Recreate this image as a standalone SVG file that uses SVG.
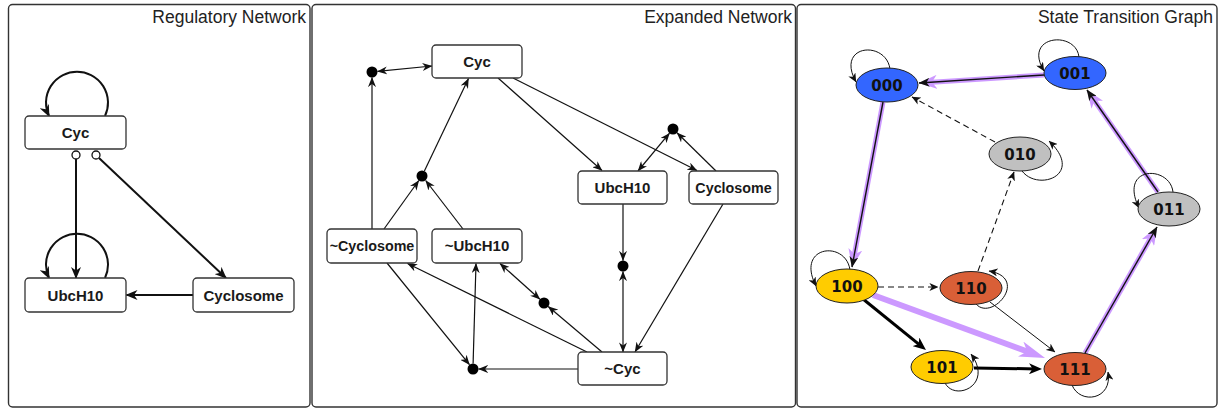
<svg xmlns="http://www.w3.org/2000/svg" width="1227" height="409" viewBox="0 0 1227 409">
  <style>
    .frame { fill: #ffffff; stroke: #333333; stroke-width: 1.4; }
    .title { font-family: "Liberation Sans", Arial, sans-serif; font-size: 17.5px; fill: #222222; text-anchor: end; }
    .box { fill: #ffffff; stroke: #333333; stroke-width: 1.3; }
    .lbl { font-family: "Liberation Sans", Arial, sans-serif; font-weight: bold; font-size: 15px; fill: #1a1a1a; text-anchor: middle; }
    .st { font-family: "DejaVu Sans", sans-serif; font-weight: bold; font-size: 15px; fill: #111111; text-anchor: middle; }
    .ell { stroke: #222222; stroke-width: 1; }
    .e1 { fill: none; stroke: #111111; stroke-width: 2; marker-end: url(#a1); }
    .e2 { fill: none; stroke: #111111; stroke-width: 1.2; marker-end: url(#a2); }
    .e2d { fill: none; stroke: #111111; stroke-width: 1.2; marker-start: url(#a2); marker-end: url(#a2); }
    .dot { fill: #000000; }
    .loop { fill: none; stroke: #111111; stroke-width: 1; marker-end: url(#a3); }
    .dash { fill: none; stroke: #111111; stroke-width: 1.1; stroke-dasharray: 6 4; marker-end: url(#a3); }
    .thin { fill: none; stroke: #111111; stroke-width: 1; marker-end: url(#a3); }
    .thick { fill: none; stroke: #000000; stroke-width: 3; marker-end: url(#a3t); }
    .glow { fill: none; stroke: #cc99ff; stroke-width: 5; marker-end: url(#ap); }
    .glow2 { fill: none; stroke: #cc99ff; stroke-width: 6; marker-end: url(#ap2); }
    .core { fill: none; stroke: #111111; stroke-width: 1.4; marker-end: url(#a3b); }
  </style>
  <defs>
    <marker id="a1" viewBox="0 0 12 10" markerWidth="12" markerHeight="10" refX="11" refY="5" orient="auto-start-reverse" markerUnits="userSpaceOnUse">
      <path d="M0,0 L12,5 L0,10 L3.5,5 z" fill="#111111"/>
    </marker>
    <marker id="a2" viewBox="0 0 10 8" markerWidth="10" markerHeight="8" refX="9.6" refY="4" orient="auto-start-reverse" markerUnits="userSpaceOnUse">
      <path d="M0,0 L10,4 L0,8 L3,4 z" fill="#111111"/>
    </marker>
    <marker id="a3" viewBox="0 0 9 8" markerWidth="9" markerHeight="8" refX="8.6" refY="4" orient="auto" markerUnits="userSpaceOnUse">
      <path d="M0,0 L9,4 L0,8 L2.5,4 z" fill="#111111"/>
    </marker>
    <marker id="a3b" viewBox="0 0 11 9" markerWidth="11" markerHeight="9" refX="10.5" refY="4.5" orient="auto" markerUnits="userSpaceOnUse">
      <path d="M0,0 L11,4.5 L0,9 L3,4.5 z" fill="#111111"/>
    </marker>
    <marker id="a3t" viewBox="0 0 13 11" markerWidth="13" markerHeight="11" refX="8" refY="5.5" orient="auto" markerUnits="userSpaceOnUse">
      <path d="M0,0 L13,5.5 L0,11 L3.5,5.5 z" fill="#000000"/>
    </marker>
    <marker id="ap" viewBox="0 0 18 14" markerWidth="18" markerHeight="14" refX="9" refY="7" orient="auto" markerUnits="userSpaceOnUse">
      <path d="M0,0 L18,7 L0,14 L5,7 z" fill="#cc99ff"/>
    </marker>
    <marker id="ap2" viewBox="0 0 26 16" markerWidth="26" markerHeight="16" refX="12" refY="8" orient="auto" markerUnits="userSpaceOnUse">
      <path d="M0,0 L26,8 L0,16 L7,8 z" fill="#cc99ff"/>
    </marker>
  </defs>

  <!-- panel frames and titles -->
  <g id="frames">
    <rect class="frame" x="8.5" y="4.5" width="301.5" height="402.5" rx="4"/>
    <rect class="frame" x="312" y="4.5" width="483.5" height="402.5" rx="4"/>
    <rect class="frame" x="797" y="4.5" width="420" height="402.5" rx="4"/>
    <text class="title" x="306" y="23">Regulatory Network</text>
    <text class="title" x="792" y="23">Expanded Network</text>
    <text class="title" x="1213" y="23">State Transition Graph</text>
  </g>

  <!-- regulatory network: edges -->
  <g id="reg-connectors">
    <path class="e1" d="M105,116 A31,31 0 1 0 49,116"/>
    <path class="e1" d="M105,278 A31,31 0 1 0 49,278"/>
    <path class="e1" d="M76,159 L76,278"/>
    <path class="e1" d="M99,158 L226,278"/>
    <path class="e1" d="M193,295 L126.5,295"/>
    <circle cx="76" cy="155" r="4" fill="#ffffff" stroke="#111111" stroke-width="1.3"/>
    <circle cx="96" cy="155" r="4" fill="#ffffff" stroke="#111111" stroke-width="1.3"/>
  </g>
  <g id="reg-cyc"><rect class="box" x="25" y="116" width="101" height="33" rx="4"/><text class="lbl" x="75.5" y="138">Cyc</text></g>
  <g id="reg-ubch10"><rect class="box" x="25" y="278" width="101" height="34" rx="4"/><text class="lbl" x="75.5" y="300.5">UbcH10</text></g>
  <g id="reg-cyclosome"><rect class="box" x="193" y="278" width="101" height="34" rx="4"/><text class="lbl" x="243.5" y="300.5">Cyclosome</text></g>

  <!-- expanded network: edges and junction dots -->
  <g id="exp-connectors">
    <path class="e2d" d="M377.5,71.4 L432,66"/>
    <path class="e2" d="M372,229 L372,77.5"/>
    <path class="e2" d="M424.4,171 L468.5,78.5"/>
    <path class="e2" d="M384,229 L418.8,180.5"/>
    <path class="e2" d="M463,229 L425.7,180.5"/>
    <path class="e2" d="M498,78 L602,170.5"/>
    <path class="e2" d="M513,78 L697,170.5"/>
    <path class="e2d" d="M638,171 L669.5,133.2"/>
    <path class="e2" d="M716,171 L677,132.8"/>
    <path class="e2" d="M623,204 L623,260.5"/>
    <path class="e2d" d="M623,271.5 L623,352"/>
    <path class="e2" d="M723,204 L635,352"/>
    <path class="e2" d="M602,352 L548.2,306.5"/>
    <path class="e2" d="M587,352 L407.5,263.5"/>
    <path class="e2" d="M578,369 L478.5,369"/>
    <path class="e2d" d="M500,263.5 L539.9,299.3"/>
    <path class="e2" d="M473.1,363.5 L476,263.5"/>
    <path class="e2" d="M387,263 L469.5,364.7"/>
    <circle class="dot" cx="372" cy="72" r="5.5"/>
    <circle class="dot" cx="422" cy="176" r="5.5"/>
    <circle class="dot" cx="673" cy="129" r="5.5"/>
    <circle class="dot" cx="623" cy="266" r="5.5"/>
    <circle class="dot" cx="544" cy="303" r="5.5"/>
    <circle class="dot" cx="473" cy="369" r="5.5"/>
  </g>
  <g id="exp-cyc"><rect class="box" x="432" y="45" width="90" height="33" rx="4"/><text class="lbl" x="477" y="67">Cyc</text></g>
  <g id="exp-ubch10"><rect class="box" x="578" y="171" width="89" height="33" rx="4"/><text class="lbl" x="622.5" y="193">UbcH10</text></g>
  <g id="exp-cyclosome"><rect class="box" x="689" y="171" width="89" height="33" rx="4"/><text class="lbl" x="733.5" y="193" style="font-size:14.3px">Cyclosome</text></g>
  <g id="exp-not-cyclosome"><rect class="box" x="327" y="229" width="90" height="34" rx="4"/><text class="lbl" x="372" y="251" style="font-size:14.3px">~Cyclosome</text></g>
  <g id="exp-not-ubch10"><rect class="box" x="432" y="229" width="90" height="34" rx="4"/><text class="lbl" x="477" y="251">~UbcH10</text></g>
  <g id="exp-not-cyc"><rect class="box" x="578" y="352" width="89" height="33" rx="4"/><text class="lbl" x="622.5" y="374">~Cyc</text></g>

  <!-- state transition graph: transitions -->
  <g id="stg-connectors">
    <!-- highlighted trajectory -->
    <path class="glow" d="M1044,75 L928,82.4"/>
    <path class="core" d="M1044,75 L919,83"/>
    <path class="glow" d="M883,102 L853.7,258.2"/>
    <path class="core" d="M883,102 L852,267"/>
    <path class="glow" d="M1158,192 L1092.1,97.4"/>
    <path class="core" d="M1158,192 L1087,90"/>
    <path class="glow" d="M1085,353 L1152.5,234.8"/>
    <path class="core" d="M1085,353 L1157,227"/>
    <path class="glow2" d="M873,295 L1031.9,353.2"/>
    <!-- other transitions -->
    <path class="dash" d="M995,142 L912,97"/>
    <path class="dash" d="M978,271 L1014,172"/>
    <path class="dash" d="M878,287 L938,287"/>
    <path class="thick" d="M863,299 L922.1,346.9"/>
    <path class="thick" d="M974,368 L1037,368.9"/>
    <path class="thin" d="M990,302 L1055,352"/>
    <!-- self loops -->
    <path class="loop" d="M890,69 C886,40 835,44 856,82"/>
    <path class="loop" d="M1079,57 C1076,30 1022,35 1044,71"/>
    <path class="loop" d="M1022,171 C1038,192 1085,175 1049,141"/>
    <path class="loop" d="M1173,192 C1170,165 1118,165 1139,208"/>
    <path class="loop" d="M850,270 C846,240 795,245 816,286"/>
    <path class="loop" d="M976,304 C992,322 1030,278 989,271"/>
    <path class="loop" d="M945,383 C955,402 994,385 971,354"/>
    <path class="loop" d="M1072,385 C1080,405 1113,400 1108,372"/>
  </g>
  <g id="s000"><ellipse class="ell" cx="887" cy="85" rx="31" ry="17" fill="#3366ff"/><text class="st" x="887" y="90.5">000</text></g>
  <g id="s001"><ellipse class="ell" cx="1075" cy="73" rx="31" ry="16.5" fill="#3366ff"/><text class="st" x="1075" y="78.5">001</text></g>
  <g id="s010"><ellipse class="ell" cx="1020" cy="154" rx="31" ry="17" fill="#c0c0c0"/><text class="st" x="1020" y="159.5">010</text></g>
  <g id="s011"><ellipse class="ell" cx="1169" cy="209" rx="31" ry="17" fill="#c0c0c0"/><text class="st" x="1169" y="214.5">011</text></g>
  <g id="s100"><ellipse class="ell" cx="847" cy="286" rx="31" ry="17" fill="#ffcc00"/><text class="st" x="847" y="291.5">100</text></g>
  <g id="s110"><ellipse class="ell" cx="971" cy="288" rx="31" ry="16.5" fill="#d95f37"/><text class="st" x="971" y="293.5">110</text></g>
  <g id="s101"><ellipse class="ell" cx="942" cy="367" rx="31" ry="16.5" fill="#ffcc00"/><text class="st" x="942" y="372.5">101</text></g>
  <g id="s111"><ellipse class="ell" cx="1075" cy="369" rx="31" ry="16.5" fill="#d95f37"/><text class="st" x="1075" y="374.5">111</text></g>
</svg>
